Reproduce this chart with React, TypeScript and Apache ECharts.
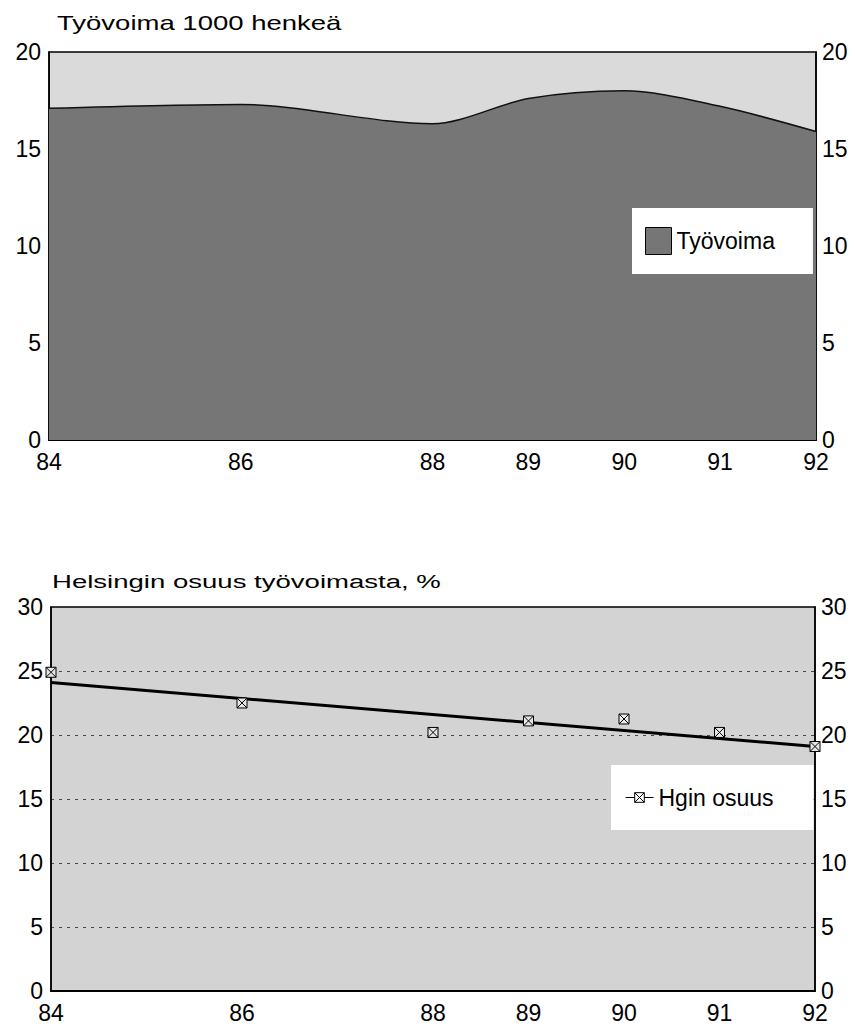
import React, { useEffect, useRef } from "react";
import * as echarts from "echarts";

// ---- data ----
const years = [84, 86, 88, 89, 90, 91, 92];
const labourForce = [17.1, 17.3, 16.3, 17.6, 18.0, 17.2, 15.9]; // 1000 persons
const helsinkiShare = [24.9, 22.5, 20.2, 21.1, 21.25, 20.2, 19.1]; // %
const trendYears = [84, 92];
const trendValues = [24.1, 19.1];
const topTicks = [0, 5, 10, 15, 20];
const bottomTicks = [0, 5, 10, 15, 20, 25, 30];
const title1 = "Työvoima 1000 henkeä";
const title2 = "Helsingin osuus työvoimasta, %";
const legend1 = "Työvoima";
const legend2 = "Hgin osuus";

const FONT = "'Liberation Sans', Arial, Helvetica, sans-serif";
const markerPath = "path://M0 0H10V10H0Z M0 0L10 10 M10 0L0 10";

export default function App() {
  const ref = useRef<HTMLDivElement>(null);
  useEffect(() => {
    if (!ref.current) return;
    const chart = echarts.init(ref.current, undefined, { renderer: "svg" });
    const xFmt = (v: number) => (years.includes(v) ? String(v) : "");
    const xAxisBase = {
      type: "value" as const,
      min: 84,
      max: 92,
      interval: 1,
      axisLine: { show: true, lineStyle: { color: "#000", width: 2 } },
      axisTick: { show: false },
      splitLine: { show: false },
      axisLabel: {
        formatter: xFmt,
        color: "#000",
        fontFamily: FONT,
        fontSize: 23,
        margin: 10,
        hideOverlap: false,
      },
    };
    const yLabel = (margin: number) => ({
      color: "#000",
      fontFamily: FONT,
      fontSize: 23,
      margin,
    });
    const option = {
      animation: false,
      backgroundColor: "#fff",
      graphic: [
        {
          type: "text",
          x: 57,
          y: 22.5,
          scaleX: 1.31,
          style: {
            text: title1,
            fontFamily: FONT,
            fontSize: 21,
            fill: "#000",
            textVerticalAlign: "middle",
          },
        },
        {
          type: "text",
          x: 52,
          y: 581.5,
          scaleX: 1.45,
          style: {
            text: title2,
            fontFamily: FONT,
            fontSize: 19,
            fill: "#000",
            textVerticalAlign: "middle",
          },
        },
      ],
      grid: [
        {
          left: 49,
          right: 855 - 816,
          top: 52,
          height: 388,
          show: true,
          backgroundColor: "#dadada",
          borderColor: "#000",
          borderWidth: 1.5,
        },
        {
          left: 51,
          right: 855 - 815,
          top: 607,
          height: 384,
          show: true,
          backgroundColor: "#d3d3d3",
          borderColor: "#000",
          borderWidth: 1.5,
        },
      ],
      xAxis: [
        { ...xAxisBase, gridIndex: 0 },
        { ...xAxisBase, gridIndex: 1 },
      ],
      yAxis: [
        {
          type: "value",
          gridIndex: 0,
          min: topTicks[0],
          max: topTicks[topTicks.length - 1],
          interval: 5,
          position: "left",
          axisLine: { show: true, lineStyle: { color: "#000", width: 1.5 } },
          axisTick: { show: false },
          splitLine: { show: false },
          axisLabel: yLabel(8),
        },
        {
          type: "value",
          gridIndex: 0,
          min: topTicks[0],
          max: topTicks[topTicks.length - 1],
          interval: 5,
          position: "right",
          axisLine: { show: true, lineStyle: { color: "#000", width: 1.5 } },
          axisTick: { show: false },
          splitLine: { show: false },
          axisLabel: yLabel(6),
        },
        {
          type: "value",
          gridIndex: 1,
          min: bottomTicks[0],
          max: bottomTicks[bottomTicks.length - 1],
          interval: 5,
          position: "left",
          axisLine: { show: true, lineStyle: { color: "#000", width: 1.5 } },
          axisTick: { show: false },
          splitLine: {
            show: true,
            showMinLine: false,
            showMaxLine: false,
            lineStyle: { color: "#4a4a4a", width: 1, type: [3, 5] },
          },
          axisLabel: yLabel(8),
        },
        {
          type: "value",
          gridIndex: 1,
          min: bottomTicks[0],
          max: bottomTicks[bottomTicks.length - 1],
          interval: 5,
          position: "right",
          axisLine: { show: true, lineStyle: { color: "#000", width: 1.5 } },
          axisTick: { show: false },
          splitLine: { show: false },
          axisLabel: yLabel(6),
        },
      ],
      legend: [
        {
          data: [legend1],
          left: 632,
          top: 208,
          orient: "vertical",
          backgroundColor: "#fff",
          padding: [19, 38, 19, 13],
          itemWidth: 26,
          itemHeight: 27,
          icon: "rect",
          itemStyle: { borderColor: "#000", borderWidth: 1 },
          textStyle: { color: "#000", fontFamily: FONT, fontSize: 23 },
        },
        {
          data: [legend2],
          left: 611,
          top: 765,
          orient: "vertical",
          backgroundColor: "#fff",
          padding: [21, 40, 21, 14],
          itemWidth: 28,
          itemHeight: 12,
          lineStyle: { color: "#000", width: 1, opacity: 1 },
          itemStyle: { color: "#fff", borderColor: "#000", borderWidth: 1 },
          textStyle: { color: "#000", fontFamily: FONT, fontSize: 23 },
        },
      ],
      series: [
        {
          name: legend1,
          type: "line",
          xAxisIndex: 0,
          yAxisIndex: 0,
          smooth: 0.3,
          showSymbol: false,
          symbol: "none",
          data: years.map((y, i) => [y, labourForce[i]]),
          lineStyle: { color: "#111", width: 1.5 },
          itemStyle: { color: "#767676" },
          areaStyle: { color: "#767676", opacity: 1 },
          z: 2,
        },
        {
          name: "trend",
          type: "line",
          xAxisIndex: 1,
          yAxisIndex: 2,
          showSymbol: false,
          symbol: "none",
          data: trendYears.map((y, i) => [y, trendValues[i]]),
          lineStyle: { color: "#000", width: 3 },
          z: 3,
        },
        {
          name: legend2,
          type: "line",
          xAxisIndex: 1,
          yAxisIndex: 2,
          symbol: markerPath,
          symbolSize: 10,
          showSymbol: true,
          data: years.map((y, i) => [y, helsinkiShare[i]]),
          lineStyle: { opacity: 0, width: 0 },
          itemStyle: { color: "#e6e6e6", borderColor: "#000", borderWidth: 1 },
          z: 4,
        },
      ],
    };
    chart.setOption(option as any);
    return () => chart.dispose();
  }, []);
  return (
    <div
      ref={ref}
      style={{ position: "fixed", left: 0, top: 0, width: 855, height: 1027, background: "#fff" }}
    />
  );
}
